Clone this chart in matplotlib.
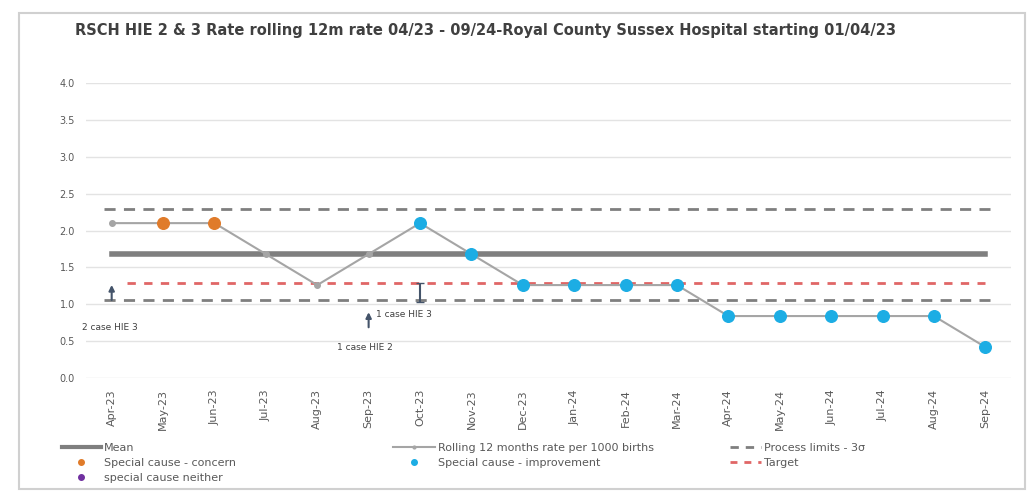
import matplotlib
matplotlib.use("Agg")
import matplotlib.pyplot as plt
from matplotlib.lines import Line2D
from matplotlib.patches import Rectangle
import numpy as np

months = ["Apr-23", "May-23", "Jun-23", "Jul-23", "Aug-23", "Sep-23", "Oct-23", "Nov-23", "Dec-23",
          "Jan-24", "Feb-24", "Mar-24", "Apr-24", "May-24", "Jun-24", "Jul-24", "Aug-24", "Sep-24"]
rate = [2.10, 2.10, 2.10, 1.68, 1.26, 1.68, 2.10, 1.68, 1.26,
        1.26, 1.26, 1.26, 0.84, 0.84, 0.84, 0.84, 0.84, 0.42]
# 0 = common cause, 1 = special cause concern, 2 = special cause improvement
flags = [0, 1, 1, 0, 0, 0, 2, 2, 2, 2, 2, 2, 2, 2, 2, 2, 2, 2]
mean_val = 1.68
upper_lim = 2.29
lower_lim = 1.06
target_val = 1.29
yticks = [0.0, 0.5, 1.0, 1.5, 2.0, 2.5, 3.0, 3.5, 4.0]

# annotation texts: (label, x, y, ha)
note_text = [("2 case HIE 3", -0.04, 0.69, "center"),
             ("1 case HIE 3", 5.15, 0.86, "left"),
             ("1 case HIE 2", 4.93, 0.42, "center")]
# up arrows: (x, y from, y to)
note_arrows = [(0, 1.02, 1.30), (5, 0.65, 0.93)]

x = np.arange(len(months))
grey = "#7f7f7f"
orange = "#e07b2a"
cyan = "#1cade4"
txt = "#595959"

plt.rcParams["font.family"] = ["DejaVu Sans"]
fig = plt.figure(figsize=(10.31, 4.92), dpi=100)
ax = fig.add_axes([0.0834, 0.2317, 0.8972, 0.5996])

for t in yticks:
    ax.axhline(t, color="#e3e3e3", lw=1, zorder=0)

ax.plot([x[0], x[-1]], [mean_val, mean_val], color=grey, lw=4, zorder=2)
ax.plot([x[0] - 0.15, x[-1] + 0.1], [upper_lim, upper_lim], color=grey, lw=2, ls=(0, (4, 3)), zorder=2)
ax.plot([x[0] - 0.15, x[-1] + 0.1], [lower_lim, lower_lim], color=grey, lw=2, ls=(0, (4, 3)), zorder=2)
ax.plot([x[0] + 0.3, x[-1]], [target_val, target_val], color="#e06666", lw=2, ls=(0, (3, 3)), zorder=2)

ax.plot(x, rate, color="#a5a5a5", lw=1.5, marker="o", ms=4, mfc="#a5a5a5", mec="#a5a5a5", zorder=3)
r = np.array(rate)
f = np.array(flags)
ax.scatter(x[f == 1], r[f == 1], s=70, color=orange, zorder=4)
ax.scatter(x[f == 2], r[f == 2], s=70, color=cyan, zorder=4)

for label, tx, ty, ha in note_text:
    ax.text(tx, ty, label, fontsize=6.5, color="#404040", va="center", ha=ha, zorder=5)
for axx, y0, y1 in note_arrows:
    ax.annotate("", xy=(axx, y1), xytext=(axx, y0),
                arrowprops=dict(arrowstyle="-|>", color="#44546a", lw=1.5, mutation_scale=8), zorder=5)
# I-shaped mark at Oct-23
ax.errorbar([6], [1.16], yerr=[[0.13], [0.13]], color="#44546a", capsize=3, lw=1.5, zorder=5)

ax.set_xlim(-0.5, len(months) - 0.5)
ax.set_ylim(0, 4)
ax.set_yticks(yticks)
ax.set_yticklabels([f"{t:.1f}" for t in yticks], fontsize=7, color=txt)
ax.set_xticks(x)
ax.set_xticklabels(months, rotation=90, fontsize=8, color=txt)
ax.tick_params(length=0, pad=8)
for s in ax.spines.values():
    s.set_visible(False)

fig.text(0.073, 0.937, "RSCH HIE 2 & 3 Rate rolling 12m rate 04/23 - 09/24-Royal County Sussex Hospital starting 01/04/23",
         fontsize=10.5, fontweight="bold", color="#404040", va="center")

leg_kw = dict(frameon=False, fontsize=8, labelcolor=txt, handletextpad=0.3,
              labelspacing=0.45, loc="upper left", borderaxespad=0, borderpad=0)
h1 = [Line2D([], [], color=grey, lw=3),
      Line2D([], [], color=orange, marker="o", ls="none", ms=4),
      Line2D([], [], color="#7030a0", marker="o", ls="none", ms=4)]
fig.legend(h1, ["Mean", "Special cause - concern", "special cause neither"],
           bbox_to_anchor=(0.060, 0.099), handlelength=3.5, **leg_kw)
h2 = [Line2D([], [], color="#a5a5a5", lw=1.5, marker="o", ms=2),
      Line2D([], [], color=cyan, marker="o", ls="none", ms=4)]
fig.legend(h2, ["Rolling 12 months rate per 1000 births", "Special cause - improvement"],
           bbox_to_anchor=(0.381, 0.099), handlelength=3.8, **leg_kw)
h3 = [Line2D([], [], color=grey, lw=2, ls=(0, (3, 2.5))),
      Line2D([], [], color="#e06666", lw=2, ls=(0, (2.5, 2.5)))]
fig.legend(h3, ["Process limits - 3\u03c3", "Target"],
           bbox_to_anchor=(0.708, 0.099), handlelength=2.8, **leg_kw)

fig.patches.append(Rectangle((0.018, 0.006), 0.976, 0.968, transform=fig.transFigure,
                             fill=False, edgecolor="#d0d0d0", lw=1.5))

fig.savefig("out.png", dpi=100)
